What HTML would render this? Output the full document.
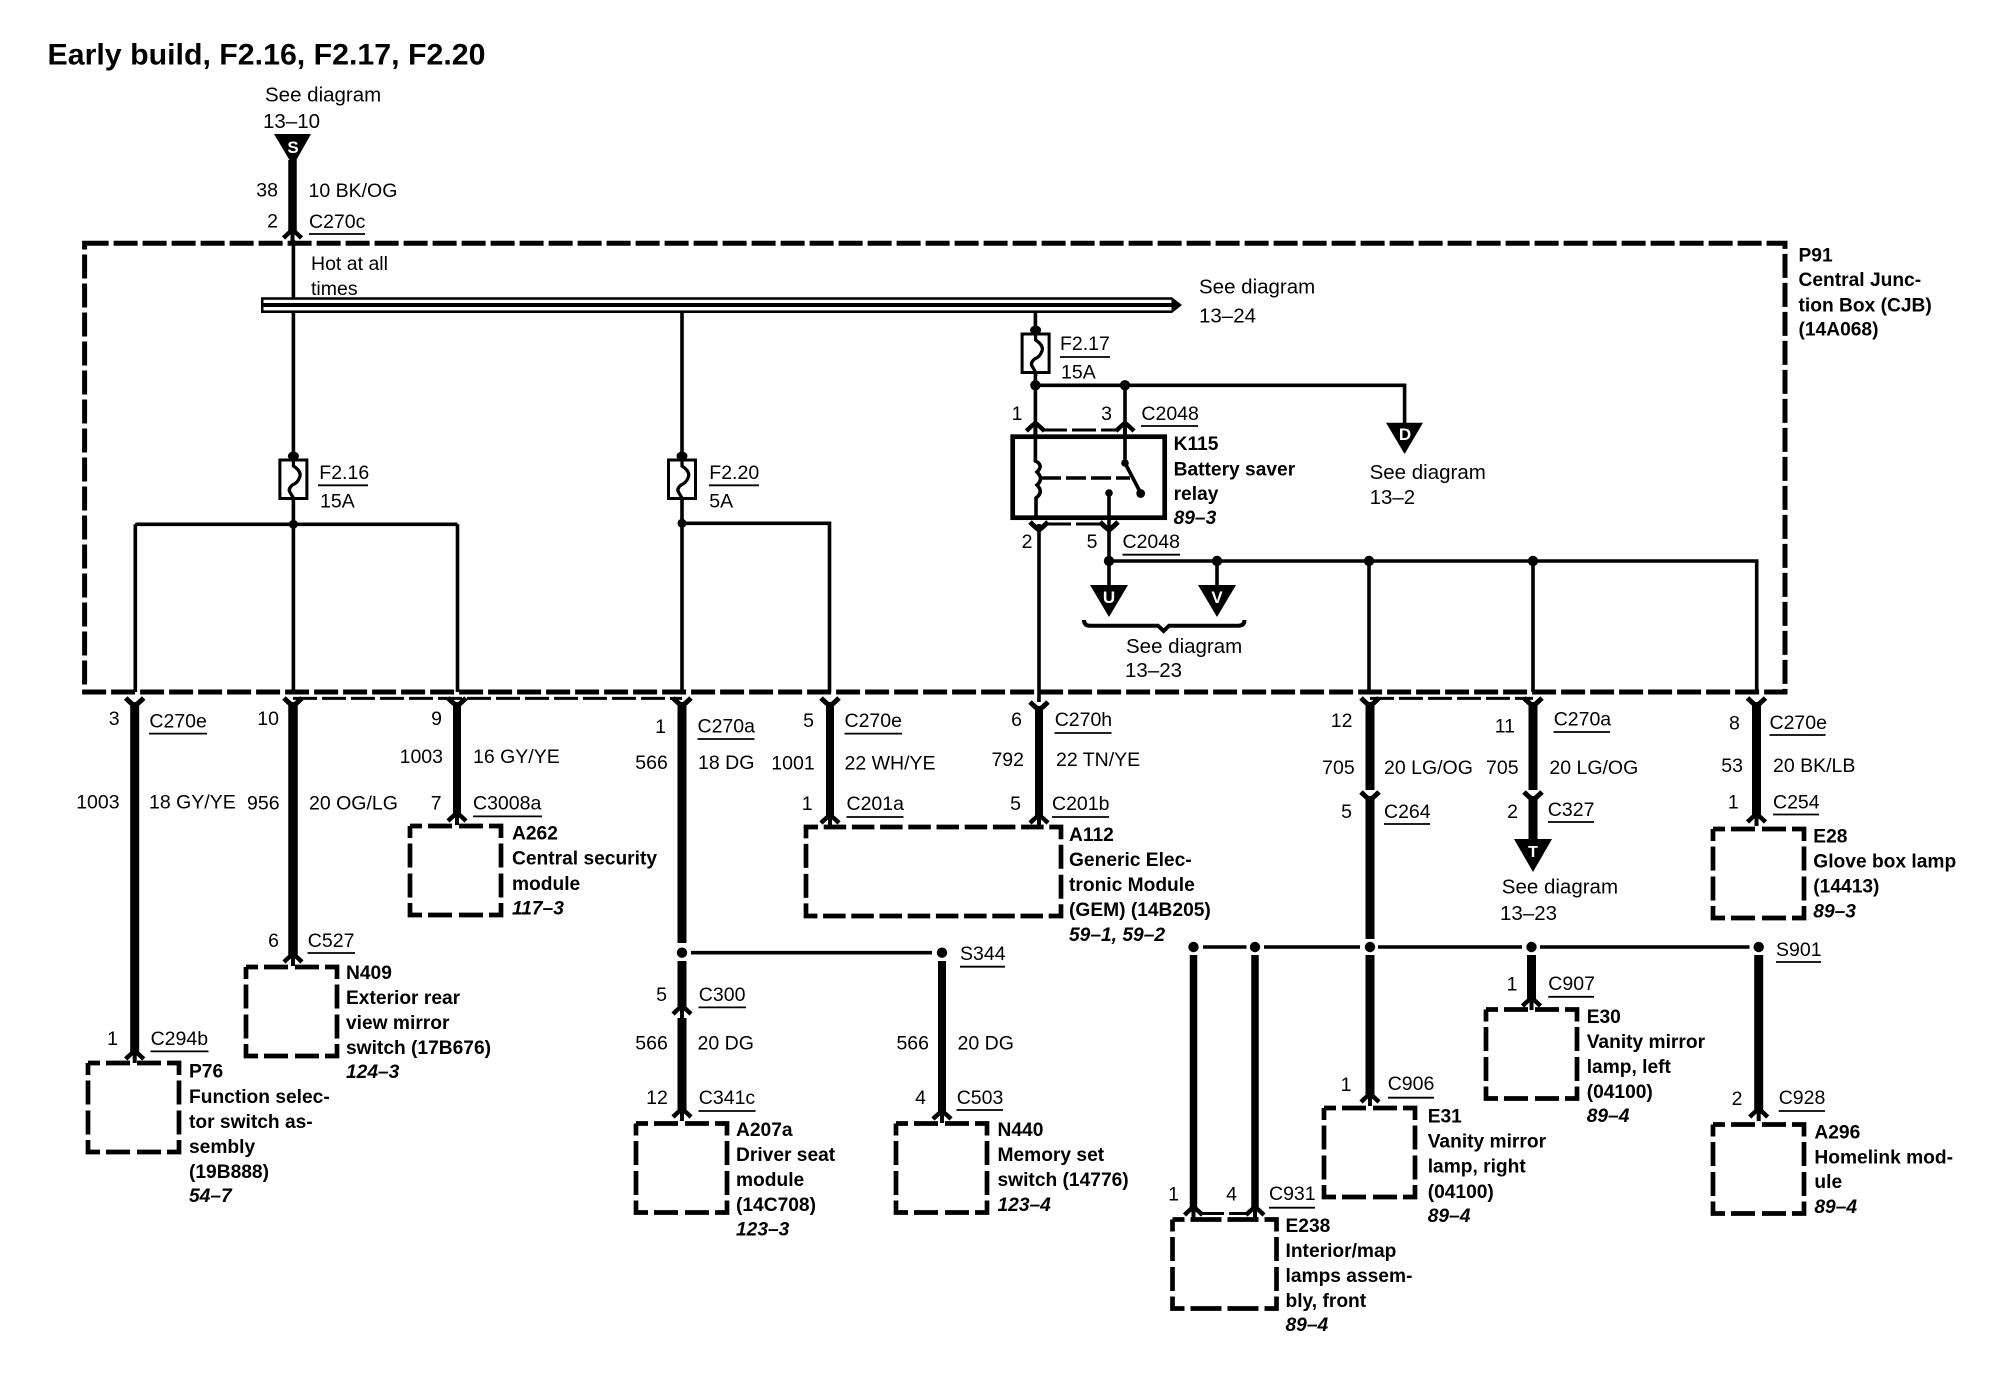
<!DOCTYPE html>
<html><head><meta charset="utf-8"><style>
html,body{margin:0;padding:0;background:#fff}
svg{display:block}
text{font-family:"Liberation Sans",Arial,sans-serif;font-size:19.5px;fill:#000}
.s{font-size:20.5px}
.b{font-weight:bold;font-size:19.2px}
.i{font-weight:bold;font-style:italic;font-size:19.2px}
.w{fill:#fff;font-weight:bold;font-size:17px;text-anchor:middle}
.t{stroke:#000;stroke-width:3.6;fill:none}
.k{stroke:#000;stroke-width:9;fill:none}
.u{stroke:#000;stroke-width:1.8;fill:none}
.d{stroke:#000;stroke-width:3;fill:none;stroke-dasharray:24 5}
</style></head><body>
<svg width="2008" height="1392" viewBox="0 0 2008 1392" xmlns="http://www.w3.org/2000/svg">
<defs>
<g id="au"><path d="M-9 8Q-4 3 0 0Q4 3 9 8" fill="none" stroke="#000" stroke-width="4.5"/><path d="M0 0V12" stroke="#000" stroke-width="4"/></g>
<g id="ad"><path d="M-9 -8Q-4 -3 0 0Q4 -3 9 -8" fill="none" stroke="#000" stroke-width="5"/></g>
<path id="box" d="M0 0H91V89H0Z" fill="none" stroke="#000" stroke-width="4.7" stroke-dasharray="12 6 24 7 24 6 24 5.5 24 6 24 5.5 24 6 24 7 24 6 24 5.5 24 6 24 5.5 12 0"/>
<circle id="dot" r="5.2" fill="#000"/>
<g id="fuse"><rect x="-13.5" y="0" width="27" height="38.5" fill="#fff" stroke="#000" stroke-width="3"/><path d="M0 -4V6Q9 12 6 18Q4 23 -1 25Q-6 29 -3 33L0 38V42" fill="none" stroke="#000" stroke-width="3.2"/><ellipse cy="-4" rx="5.5" ry="4.5" fill="#000"/></g>
</defs>

<!-- central junction box -->
<path d="M84.6 243.3H1785V692H84.6Z" fill="none" stroke="#000" stroke-width="5" stroke-dasharray="24 5"/>

<!-- title -->
<text x="47.5" y="64.5" style="font-weight:bold;font-size:29.5px" textLength="438" lengthAdjust="spacingAndGlyphs">Early build, F2.16, F2.17, F2.20</text>

<!-- S feed -->
<path d="M274 134H311L293 166Z" fill="#000"/><text class="w" x="293" y="153">S</text>
<path class="k" d="M292.5 160V232" style="stroke-width:8.5"/>
<use href="#au" x="292.5" y="230"/>
<path class="t" d="M293.4 240V456"/>

<!-- bus -->
<path d="M261 297.3H1172L1182 305L1172 313H261Z" fill="#000"/>
<rect x="263.5" y="299.8" width="908" height="3.2" fill="#fff"/>
<rect x="263.5" y="307" width="908" height="3.4" fill="#fff"/>

<!-- fuses + thin wires -->
<path class="t" d="M293.4 497V692M135.3 524.3H457.5M135.3 524.3V692M457.5 524.3V692"/>
<circle cx="293.4" cy="524.3" r="4.5"/>
<path class="t" d="M682 313V456M682 497V692M682 523.3H829.5V692"/>
<use href="#fuse" x="293.4" y="460"/>
<use href="#fuse" x="682" y="460"/>
<circle cx="682" cy="523.3" r="4.5"/>
<path class="t" d="M1035.4 313V330"/>
<use href="#fuse" x="1035.6" y="334"/>

<!-- relay section -->
<path class="t" d="M1035.4 372V423M1035.4 385.3H1404.6V424M1125 385.3V423"/>
<use href="#dot" x="1035.4" y="385.3"/><use href="#dot" x="1125" y="385.3"/>
<use href="#au" x="1035.4" y="423"/><use href="#au" x="1125" y="423"/>
<path class="d" d="M1043 430H1118"/>
<rect x="1012.7" y="436.7" width="152" height="81" fill="none" stroke="#000" stroke-width="4.7"/>
<path class="t" d="M1035.4 423V461Q1044 465 1037 472Q1044 479 1037 485Q1044 492 1036 498V520"/>
<path class="t" d="M1125 423V463L1140.7 493"/>
<circle cx="1125" cy="463" r="3.8"/><circle cx="1140.7" cy="493.5" r="4.4"/>
<path class="t" d="M1041 478H1130" stroke-dasharray="20 5"/>
<circle cx="1109" cy="493" r="3.8"/>
<path class="t" d="M1109 493V561"/>
<path class="d" d="M1047 524H1102"/>
<use href="#ad" x="1039" y="530"/><use href="#ad" x="1109" y="530"/>
<path class="t" d="M1039 524V702M1109 561V590M1109 561H1756.7V692M1217 561V590M1369 561V692M1533 561V692"/>
<use href="#dot" x="1109" y="561"/><use href="#dot" x="1217" y="561"/><use href="#dot" x="1369" y="561"/><use href="#dot" x="1533" y="561"/>
<path d="M1386 422.7H1423L1404.6 454Z" fill="#000"/><text class="w" x="1405" y="440">D</text>
<path d="M1090 585H1128L1109 617Z" fill="#000"/><text class="w" x="1109" y="603">U</text>
<path d="M1198 585H1236L1217 617Z" fill="#000"/><text class="w" x="1217" y="603">V</text>
<path d="M1084 620Q1084 625.7 1090 625.7H1158L1163.6 631L1169 625.7H1238Q1244.5 625.7 1244.5 620" fill="none" stroke="#000" stroke-width="4"/>

<!-- secondary dashed connector lines -->
<path class="d" d="M293 698.4H682"/>
<path class="d" d="M1370 698.4H1533"/>

<!-- thick harness wires -->
<use href="#ad" x="134.7" y="706"/>
<path class="k" d="M134.7 702V1052"/><use href="#au" x="134.7" y="1051"/>
<use href="#ad" x="293" y="706"/>
<path class="k" d="M293 702V955" style="stroke-width:9.5"/><use href="#au" x="293" y="954"/>
<use href="#ad" x="457" y="706"/>
<path class="k" d="M457 702V814" style="stroke-width:8"/><use href="#au" x="457" y="813"/>
<use href="#ad" x="682" y="706"/>
<path class="k" d="M682 702V943"/>
<use href="#dot" x="682" y="952.7"/>
<path class="k" d="M682 961V1008"/><use href="#au" x="682" y="1006"/>
<path class="k" d="M682 1018V1110"/><use href="#au" x="682" y="1109"/>
<path class="t" d="M691 952.7H932"/>
<use href="#dot" x="942" y="952.7"/>
<path class="k" d="M942 961V1112" style="stroke-width:8"/><use href="#au" x="942" y="1111"/>
<use href="#ad" x="830" y="706"/>
<path class="k" d="M830 702V816" style="stroke-width:8"/><use href="#au" x="830" y="815"/>
<use href="#ad" x="1039" y="710"/>
<path class="k" d="M1039 706V816" style="stroke-width:8"/><use href="#au" x="1039" y="815"/>

<use href="#ad" x="1370" y="706"/>
<path class="k" d="M1370 702V790"/><use href="#ad" x="1370" y="800"/>
<path class="k" d="M1370 796V939"/>
<use href="#dot" x="1370" y="947"/>
<path class="k" d="M1370 955V1095"/><use href="#au" x="1370" y="1094"/>
<use href="#ad" x="1533" y="706"/>
<path class="k" d="M1533 702V790"/><use href="#ad" x="1533" y="800"/>
<path class="k" d="M1533 796V845"/>
<path d="M1514 839H1552L1533 872Z" fill="#000"/><text class="w" x="1533" y="857" style="font-size:16px">T</text>
<use href="#ad" x="1756.5" y="706"/>
<path class="k" d="M1756.5 702V815"/><use href="#au" x="1756.5" y="814"/>

<path class="t" d="M1203 947H1246.5M1264 947H1360M1378 947H1522M1540 947H1749.5"/>
<use href="#dot" x="1193.5" y="947"/><use href="#dot" x="1255" y="947"/><use href="#dot" x="1531.5" y="947"/><use href="#dot" x="1758.7" y="947"/>
<path class="k" d="M1531.5 955V999"/><use href="#au" x="1531.5" y="998"/>
<path class="k" d="M1758.7 955V1110"/><use href="#au" x="1758.7" y="1109"/>
<path class="k" d="M1193.5 955V1208" style="stroke-width:7.5"/><use href="#au" x="1193.5" y="1207"/>
<path class="k" d="M1255 955V1208" style="stroke-width:7.5"/><use href="#au" x="1255" y="1207"/>
<path class="d" d="M1200 1213.5H1248"/>

<!-- component boxes -->
<use href="#box" x="88" y="1063"/>
<use href="#box" x="246" y="967"/>
<use href="#box" x="410" y="826"/>
<use href="#box" x="636" y="1123.5"/>
<use href="#box" x="896" y="1123.5"/>
<use href="#box" x="1324" y="1108"/>
<use href="#box" x="1486" y="1009.5"/>
<use href="#box" x="1713" y="829"/>
<use href="#box" x="1713" y="1124.5"/>
<path d="M806 827H1061V916H806Z" fill="none" stroke="#000" stroke-width="4.7" stroke-dasharray="12 5.7 22.5 5.7 22.5 5.7 22.5 5.7 22.5 5.7 22.5 5.7 22.5 5.7 22.5 5.7 22.5 5.7 24 5.5 24 6 24 5.5 24 5.7 22.5 5.7 22.5 5.7 22.5 5.7 22.5 5.7 22.5 5.7 22.5 5.7 22.5 5.7 22.5 5.7 24 5.5 24 6 24 5.5 12 0"/>
<path d="M1172.5 1219.5H1276.5V1308.5H1172.5Z" fill="none" stroke="#000" stroke-width="4.7" stroke-dasharray="12 6 31 6 31 6 24 5.5 24 6 24 5.5 24 6 31 6 31 6 24 5.5 24 6 24 5.5 12 0"/>

<!-- underlines -->
<path class="u" d="M309 234H365M318 485.3H368M709 485.3H759M1060 357H1110M1141 426H1198M1122.5 554.7H1180
M149 733.6H207M473 816.4H542M307.5 953H355M150.5 1051.4H208.5
M697.5 739H754.5M844.5 733.6H902M846.5 817H903.5M1054.5 733H1111.5M1052 817H1109M960 966.7H1005M698.5 1007.4H746M698.5 1111H755.5M956.5 1110H1003
M1384 824H1430M1553.5 732H1610M1548 822H1594M1769.5 735H1825.5M1773 814.5H1819M1776 962H1821M1548.3 996.8H1594M1388 1097.7H1434M1778.7 1111H1825M1269 1207.7H1315"/>

<!-- regular labels -->
<text class="s" x="265" y="101.7">See diagram</text>
<text class="s" x="263" y="128">13–10</text>
<text x="308.5" y="197">10 BK/OG</text>
<text x="309" y="228">C270c</text>
<text x="311" y="270">Hot at all</text>
<text x="311" y="295">times</text>
<text class="s" x="1199" y="293.3">See diagram</text>
<text class="s" x="1199" y="322.7">13–24</text>
<text x="319.3" y="479">F2.16</text>
<text x="320" y="507.7">15A</text>
<text x="709.3" y="479">F2.20</text>
<text x="709.3" y="507.7">5A</text>
<text x="1060" y="350">F2.17</text>
<text x="1061" y="378.7">15A</text>
<text x="1141.4" y="420">C2048</text>
<text x="1122.5" y="548">C2048</text>
<text class="s" x="1369.6" y="479">See diagram</text>
<text class="s" x="1369.6" y="504">13–2</text>
<text class="s" x="1126" y="653">See diagram</text>
<text class="s" x="1125" y="677">13–23</text>

<text x="149.4" y="727.5">C270e</text>
<text x="149" y="808.6">18 GY/YE</text>
<text x="309" y="809.6">20 OG/LG</text>
<text x="473" y="763">16 GY/YE</text>
<text x="473" y="809.6">C3008a</text>
<text x="307.8" y="946.8">C527</text>
<text x="150.6" y="1045">C294b</text>
<text x="697.5" y="732.5">C270a</text>
<text x="698" y="769">18 DG</text>
<text x="844.5" y="727">C270e</text>
<text x="844.5" y="769.5">22 WH/YE</text>
<text x="846.5" y="810">C201a</text>
<text x="1054.7" y="726">C270h</text>
<text x="1056" y="766">22 TN/YE</text>
<text x="1052" y="810">C201b</text>
<text x="960" y="960">S344</text>
<text x="698.8" y="1000.8">C300</text>
<text x="697.5" y="1049.6">20 DG</text>
<text x="957.5" y="1049.6">20 DG</text>
<text x="698.8" y="1104">C341c</text>
<text x="956.7" y="1104">C503</text>
<text x="1384" y="774">20 LG/OG</text>
<text x="1384" y="818">C264</text>
<text x="1553.7" y="725.5">C270a</text>
<text x="1549.4" y="774">20 LG/OG</text>
<text x="1547.8" y="816">C327</text>
<text class="s" x="1501.8" y="893.6">See diagram</text>
<text class="s" x="1500" y="920">13–23</text>
<text x="1769.5" y="729">C270e</text>
<text x="1773" y="772">20 BK/LB</text>
<text x="1773" y="808.6">C254</text>
<text x="1776" y="956">S901</text>
<text x="1548.3" y="990">C907</text>
<text x="1387.7" y="1090">C906</text>
<text x="1778.7" y="1104">C928</text>
<text x="1269" y="1200">C931</text>

<!-- right-aligned pin and circuit numbers -->
<g text-anchor="end">
<text x="278" y="196.7">38</text>
<text x="278" y="227.7">2</text>
<text x="1022.5" y="420">1</text>
<text x="1112" y="420">3</text>
<text x="1032.5" y="548">2</text>
<text x="1097.5" y="548">5</text>
<text x="119.6" y="725">3</text>
<text x="279" y="725">10</text>
<text x="442" y="725">9</text>
<text x="443" y="763">1003</text>
<text x="119.6" y="808.6">1003</text>
<text x="279.6" y="809.6">956</text>
<text x="441.6" y="809.6">7</text>
<text x="279" y="946.8">6</text>
<text x="118" y="1045">1</text>
<text x="666" y="733">1</text>
<text x="667.8" y="769">566</text>
<text x="814" y="727">5</text>
<text x="814.7" y="769.5">1001</text>
<text x="812.6" y="810">1</text>
<text x="1022" y="726">6</text>
<text x="1024" y="766">792</text>
<text x="1021" y="810">5</text>
<text x="667" y="1000.8">5</text>
<text x="667.8" y="1049.6">566</text>
<text x="929" y="1049.6">566</text>
<text x="667.8" y="1104">12</text>
<text x="926" y="1104">4</text>
<text x="1352.5" y="726.8">12</text>
<text x="1354.7" y="774">705</text>
<text x="1352" y="818">5</text>
<text x="1515" y="732.7">11</text>
<text x="1518.6" y="774">705</text>
<text x="1518" y="818">2</text>
<text x="1739.8" y="729.5">8</text>
<text x="1743" y="772">53</text>
<text x="1738.7" y="808.6">1</text>
<text x="1517.5" y="990.5">1</text>
<text x="1351.5" y="1091">1</text>
<text x="1742.5" y="1105">2</text>
<text x="1179" y="1200.5">1</text>
<text x="1237" y="1200.5">4</text>
</g>

<!-- component labels -->
<text class="b" x="1798.5" y="261.7">P91</text>
<text class="b" x="1798.5" y="286">Central Junc-</text>
<text class="b" x="1798.5" y="311.7">tion Box (CJB)</text>
<text class="b" x="1798.5" y="335.7">(14A068)</text>

<text class="b" x="1173.6" y="450">K115</text>
<text class="b" x="1173.6" y="475.7">Battery saver</text>
<text class="b" x="1173.6" y="500">relay</text>
<text class="i" x="1173.6" y="524">89–3</text>

<text class="b" x="512" y="839.6">A262</text>
<text class="b" x="512" y="864.6">Central security</text>
<text class="b" x="512" y="890">module</text>
<text class="i" x="512" y="914.6">117–3</text>

<text class="b" x="346" y="979">N409</text>
<text class="b" x="346" y="1004">Exterior rear</text>
<text class="b" x="346" y="1029">view mirror</text>
<text class="b" x="346" y="1054">switch (17B676)</text>
<text class="i" x="346" y="1078">124–3</text>

<text class="b" x="189" y="1077.5">P76</text>
<text class="b" x="189" y="1103">Function selec-</text>
<text class="b" x="189" y="1128">tor switch as-</text>
<text class="b" x="189" y="1153">sembly</text>
<text class="b" x="189" y="1178">(19B888)</text>
<text class="i" x="189" y="1202">54–7</text>

<text class="b" x="1069" y="841">A112</text>
<text class="b" x="1069" y="866">Generic Elec-</text>
<text class="b" x="1069" y="891">tronic Module</text>
<text class="b" x="1069" y="916">(GEM) (14B205)</text>
<text class="i" x="1069" y="941">59–1, 59–2</text>

<text class="b" x="736" y="1136">A207a</text>
<text class="b" x="736" y="1161">Driver seat</text>
<text class="b" x="736" y="1186">module</text>
<text class="b" x="736" y="1211">(14C708)</text>
<text class="i" x="736" y="1235.7">123–3</text>

<text class="b" x="997.5" y="1136">N440</text>
<text class="b" x="997.5" y="1161">Memory set</text>
<text class="b" x="997.5" y="1186">switch (14776)</text>
<text class="i" x="997.5" y="1211">123–4</text>

<text class="b" x="1813.3" y="842.7">E28</text>
<text class="b" x="1813.3" y="867.7">Glove box lamp</text>
<text class="b" x="1813.3" y="892.7">(14413)</text>
<text class="i" x="1813.3" y="917.3">89–3</text>

<text class="b" x="1586.7" y="1023">E30</text>
<text class="b" x="1586.7" y="1048">Vanity mirror</text>
<text class="b" x="1586.7" y="1073">lamp, left</text>
<text class="b" x="1586.7" y="1098">(04100)</text>
<text class="i" x="1586.7" y="1122">89–4</text>

<text class="b" x="1427.7" y="1122.7">E31</text>
<text class="b" x="1427.7" y="1147.7">Vanity mirror</text>
<text class="b" x="1427.7" y="1172.7">lamp, right</text>
<text class="b" x="1427.7" y="1198">(04100)</text>
<text class="i" x="1427.7" y="1222">89–4</text>

<text class="b" x="1814.4" y="1138.6">A296</text>
<text class="b" x="1814.4" y="1163.6">Homelink mod-</text>
<text class="b" x="1814.4" y="1188">ule</text>
<text class="i" x="1814.4" y="1213">89–4</text>

<text class="b" x="1285.5" y="1232">E238</text>
<text class="b" x="1285.5" y="1257">Interior/map</text>
<text class="b" x="1285.5" y="1282">lamps assem-</text>
<text class="b" x="1285.5" y="1307">bly, front</text>
<text class="i" x="1285.5" y="1331">89–4</text>
</svg>
</body></html>
